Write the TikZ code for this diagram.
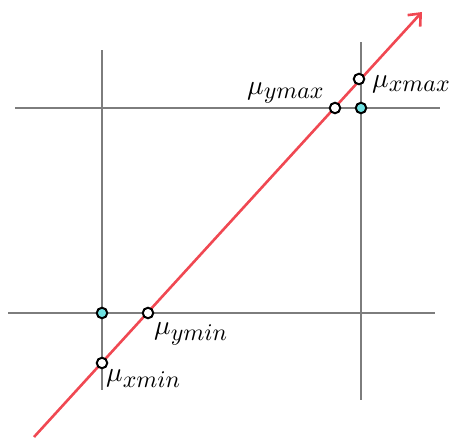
\documentclass[tikz,border=0pt]{standalone}
\usetikzlibrary{arrows.meta}
\definecolor{redline}{RGB}{240,72,82}
\definecolor{grayline}{RGB}{125,125,125}
\definecolor{cyanfill}{RGB}{110,225,225}
\newcommand{\mulbl}[1]{\scalebox{2.75}{$\mu_{\scalebox{0.87}{$#1$}}$}}
\begin{document}
\begin{tikzpicture}[x=1pt,y=-1pt,
  gridline/.style={draw=grayline,line width=1.7pt},
  mainline/.style={draw=redline,line width=2.6pt,-{Straight Barb[length=10pt,width=17pt,line width=2.6pt]}},
  opendot/.style={circle,draw=black,fill=white,line width=2pt,minimum size=10.5pt,inner sep=0pt},
  cyandot/.style={circle,draw=black,fill=cyanfill,line width=2pt,minimum size=10.5pt,inner sep=0pt},
  lbl/.style={inner sep=0pt,anchor=base west}]
\useasboundingbox (0,0) rectangle (453,439);
\coordinate (vlT) at (102,50); \coordinate (vlB) at (102,390);
\coordinate (vrT) at (361,42); \coordinate (vrB) at (361,400);
\coordinate (htL) at (15,108); \coordinate (htR) at (440,108);
\coordinate (hbL) at (8,313); \coordinate (hbR) at (435,313);
\coordinate (rs) at (34,437); \coordinate (re) at (422,12);
\draw[gridline] (vlT) -- (vlB);
\draw[gridline] (vrT) -- (vrB);
\draw[gridline] (htL) -- (htR);
\draw[gridline] (hbL) -- (hbR);
\draw[mainline] (rs) -- (re);
\node[cyandot] (c1) at (102,313) {};
\node[cyandot] (c2) at (361,108) {};
\node[opendot] (ymin) at (148,313) {};
\node[opendot] (xmin) at (102,363) {};
\node[opendot] (ymax) at (335,108) {};
\node[opendot] (xmax) at (359,79) {};
\node[lbl] (lymin) at (154,334) {\mulbl{ymin}};
\node[lbl] (lxmin) at (106,381) {\mulbl{xmin}};
\node[lbl] (lymax) at (247,94) {\mulbl{ymax}};
\node[lbl] (lxmax) at (372,87) {\mulbl{xmax}};
\end{tikzpicture}
\end{document}
